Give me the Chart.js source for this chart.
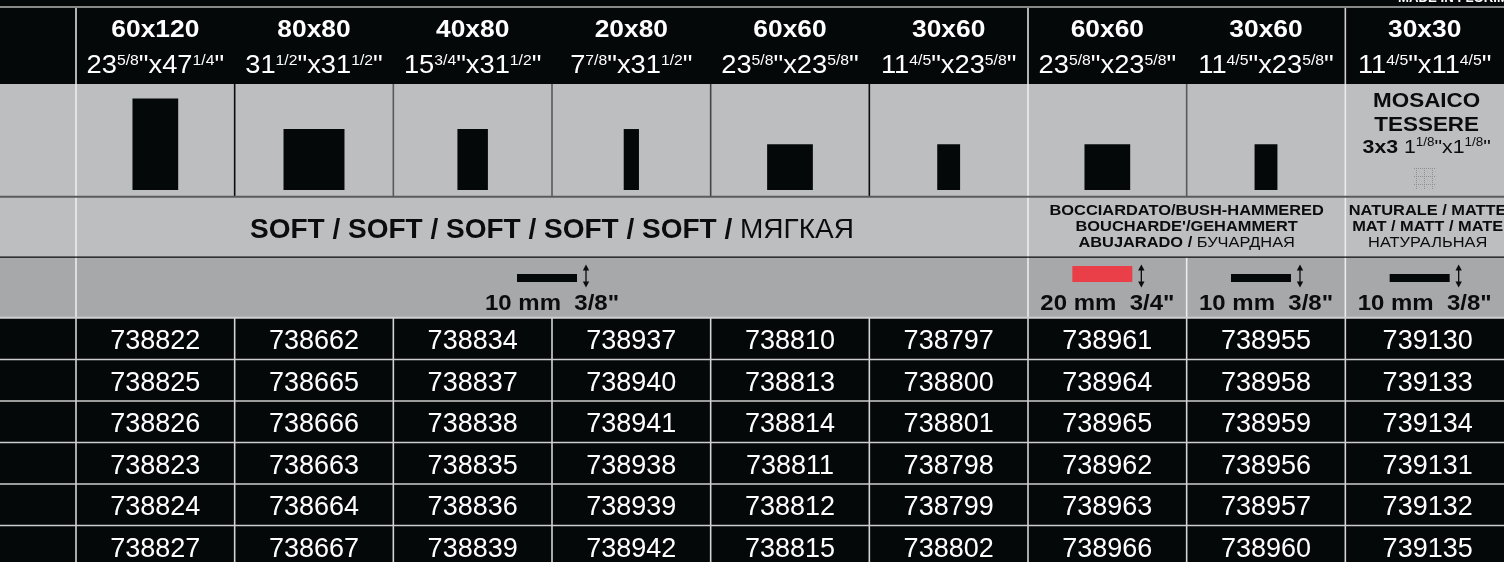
<!DOCTYPE html>
<html>
<head>
<meta charset="utf-8">
<script src="https://cdn.jsdelivr.net/npm/chart.js@4.4.1/dist/chart.umd.min.js"></script>
<style>
html, body { margin: 0; padding: 0; background: #050809; }
#wrap { width: 1504px; height: 562px; position: relative; }
</style>
</head>
<body>
<div id="wrap"><canvas id="tbl"></canvas></div>
<script>
// product columns
const formatsCm = ['60x120', '80x80', '40x80', '20x80', '60x60', '30x60', '60x60', '30x60', '30x30'];
const formatsIn = [
    ['23', '5/8', '47', '1/4'], ['31', '1/2', '31', '1/2'], ['15', '3/4', '31', '1/2'],
    ['7', '7/8', '31', '1/2'], ['23', '5/8', '23', '5/8'], ['11', '4/5', '23', '5/8'],
    ['23', '5/8', '23', '5/8'], ['11', '4/5', '23', '5/8'], ['11', '4/5', '11', '4/5']
];
// tile drawing size in cm (width, height)
const tileW = [60, 80, 40, 20, 60, 30, 60, 30, 30];
const tileH = [120, 80, 80, 80, 60, 60, 60, 60, 30];
const tileMosaic = [false, false, false, false, false, false, false, false, true];
const mosaicText = ['MOSAICO', 'TESSERE'];
const mosaicSize = ['3x3', '1', '1/8', '1', '1/8'];

// finish groups: [first col, last col], lines of [bold part, regular part]
const finishSpans = [[0, 5], [6, 7], [8, 8]];
const finishText = [
    [['SOFT / SOFT / SOFT / SOFT / SOFT / ', 'МЯГКАЯ']],
    [['BOCCIARDATO/BUSH-HAMMERED', ''], ["BOUCHARDE'/GEHAMMERT", ''], ['ABUJARADO / ', 'БУЧАРДНАЯ']],
    [['NATURALE / MATTE', ''], ['MAT / MATT / MATE', ''], ['', 'НАТУРАЛЬНАЯ']]
];

// thickness groups
const thickSpans = [[0, 5], [6, 6], [7, 7], [8, 8]];
const thickMm = [10, 20, 10, 10];
const thickIn = ['3/8"', '3/4"', '3/8"', '3/8"'];

// article codes, one list per row
const codes = [
    ['738822', '738662', '738834', '738937', '738810', '738797', '738961', '738955', '739130'],
    ['738825', '738665', '738837', '738940', '738813', '738800', '738964', '738958', '739133'],
    ['738826', '738666', '738838', '738941', '738814', '738801', '738965', '738959', '739134'],
    ['738823', '738663', '738835', '738938', '738811', '738798', '738962', '738956', '739131'],
    ['738824', '738664', '738836', '738939', '738812', '738799', '738963', '738957', '739132'],
    ['738827', '738667', '738839', '738942', '738815', '738802', '738966', '738960', '739135']
];

// ---- layout / style ----
const W = 1504, H = 562, LABEL_W = 76;
const COL_W = (W - LABEL_W) / 9;
const PX_PER_CM = 0.762, TILE_BASE = 190;
const PX_PER_MM = 0.8, THICK_BASE = 282;
const rowEdges = [0, 8, 84, 197, 257, 318, 359.5, 401, 442.5, 484, 525.5, 567];
const rowFill = ['#050809', '#050809', '#bdbec0', '#bdbec0', '#a7a8aa', '#050809', '#050809', '#050809', '#050809', '#050809', '#050809'];
const INK = '#0a0c0d';
const FAM = '"Liberation Sans", Arial, sans-serif';
const F = (w, s) => `${w} ${s}px ${FAM}`;

const WHITE_RULE = '#ececec';
const vRules = {
    1: [[0, '#dedede'], [6, '#dedede'], [8, '#cfcfcf']],
    2: [[0, WHITE_RULE], [1, '#0b0b0b'], [2, '#58595a'], [3, '#58595a'], [4, '#444'], [5, '#0b0b0b'], [6, WHITE_RULE], [7, '#58595a'], [8, WHITE_RULE]],
    3: [[0, WHITE_RULE], [6, WHITE_RULE], [8, WHITE_RULE]],
    4: [[0, WHITE_RULE], [6, WHITE_RULE], [7, WHITE_RULE], [8, WHITE_RULE]]
};
const hRules = [[7, '#b4b4b4', 1.6], [196.7, '#5a5b5c', 2], [257.2, '#0b0b0b', 1.2], [317.7, '#d0d0d0', 2]];

function makeMosaicPattern() {
    const c = document.createElement('canvas');
    c.width = 8; c.height = 8;
    const g = c.getContext('2d');
    g.fillStyle = '#8e8f91';
    for (let i = 0; i < 8; i += 2) {
        g.fillRect(i, 0, 1, 1);
        g.fillRect(0, i, 1, 1);
    }
    g.fillStyle = '#b0b1b3';
    g.fillRect(3, 3, 1, 1); g.fillRect(5, 5, 1, 1);
    return g.createPattern(c, 'repeat');
}

function drawRich(ctx, parts, cx, base, sx = 1, align = 'center') {
    let w = 0;
    parts.forEach(p => { ctx.font = p[1]; w += ctx.measureText(p[0]).width; });
    const x0 = align === 'left' ? cx : cx - w * sx / 2;
    ctx.save();
    ctx.translate(x0, base);
    ctx.scale(sx, 1);
    ctx.textAlign = 'left';
    ctx.textBaseline = 'alphabetic';
    let cur = 0;
    parts.forEach(p => {
        ctx.font = p[1];
        ctx.fillText(p[0], cur, p[2] || 0);
        cur += ctx.measureText(p[0]).width;
    });
    ctx.restore();
}

const tablePlugin = {
    id: 'tablePlugin',
    beforeDatasetsDraw(chart) {
        const { ctx, scales: { x, yrow } } = chart;
        const ry = v => yrow.getPixelForValue(v);
        const edge = k => x.getPixelForValue(k - 0.5);
        ctx.save();
        // row bands
        for (let r = 0; r < rowFill.length; r++) {
            ctx.fillStyle = rowFill[r];
            ctx.fillRect(0, ry(rowEdges[r]), W, ry(rowEdges[r + 1]) - ry(rowEdges[r]));
        }
        // vertical rules
        ctx.lineWidth = 1.6;
        for (let r = 1; r < rowFill.length; r++) {
            const list = vRules[r] || [0, 1, 2, 3, 4, 5, 6, 7, 8].map(k => [k, '#d4d4d4']);
            list.forEach(([k, col]) => {
                const px = edge(k);
                ctx.strokeStyle = col;
                ctx.beginPath();
                ctx.moveTo(px, ry(rowEdges[r]));
                ctx.lineTo(px, ry(rowEdges[r + 1]));
                ctx.stroke();
            });
        }
        // horizontal rules
        const rules = hRules.concat(rowEdges.slice(6, 11).map(v => [v, '#cdcdcd', 1.6]));
        rules.forEach(([v, col, lw]) => {
            ctx.strokeStyle = col;
            ctx.lineWidth = lw;
            ctx.beginPath();
            ctx.moveTo(0, ry(v));
            ctx.lineTo(W, ry(v));
            ctx.stroke();
        });
        ctx.restore();
    },
    afterDatasetsDraw(chart) {
        const { ctx, scales: { x, yrow, ymm } } = chart;
        const ry = v => yrow.getPixelForValue(v);
        const cx = v => x.getPixelForValue(v);
        ctx.save();

        // cut-off caption above the table
        ctx.fillStyle = '#ffffff';
        drawRich(ctx, [['MADE IN FLORIM', F('bold', 12)]], 1398, ry(1.8), 1.1, 'left');

        // header
        formatsCm.forEach((f, i) => {
            ctx.fillStyle = '#ffffff';
            drawRich(ctx, [[f, F('bold', 24)]], cx(i), ry(37), 1.1);
            const [a, fa, b, fb] = formatsIn[i];
            const big = F('normal', 26), sup = F('normal', 15);
            drawRich(ctx, [[a, big], [fa, sup, -8], ['"x' + b, big], [fb, sup, -8], ['"', big]], cx(i), ry(72.7), 1.05);
        });

        // mosaic description
        ctx.fillStyle = INK;
        const mc = cx(8) + 2;
        drawRich(ctx, [[mosaicText[0], F('bold', 19.5)]], mc, ry(106.7), 1.15);
        drawRich(ctx, [[mosaicText[1], F('bold', 19.5)]], mc, ry(130.7), 1.15);
        const m19 = F('normal', 19), m12 = F('normal', 12);
        drawRich(ctx, [[mosaicSize[0] + ' ', F('bold', 19)], [mosaicSize[1], m19], [mosaicSize[2], m12, -7],
            ['"x' + mosaicSize[3], m19], [mosaicSize[4], m12, -7], ['"', m19]], mc, ry(152.7), 1.12);

        // finish
        finishSpans.forEach(([a, b], g) => {
            const lines = finishText[g];
            const c = cx((a + b) / 2) + (g === 2 ? 3 : 0);
            if (lines.length === 1) {
                drawRich(ctx, [[lines[0][0], F('bold', 28)], [lines[0][1], F('normal', 28)]], c, ry(238), 1.0);
            } else {
                const bases = [215, 230.5, 246.8];
                lines.forEach((ln, j) => {
                    drawRich(ctx, [[ln[0], F('bold', 14.5)], [ln[1], F('normal', 14.5)]], c, ry(bases[j]), 1.13);
                });
            }
        });

        // thickness labels + arrows
        const base = ymm.getPixelForValue(0);
        thickSpans.forEach(([a, b], g) => {
            drawRich(ctx, [[thickMm[g] + ' mm  ' + thickIn[g], F('bold', 22)]], cx((a + b) / 2), ry(310), 1.09);
        });
        chart.data.datasets.forEach((ds, di) => {
            if (ds.kind !== 'thick') return;
            const el = chart.getDatasetMeta(di).data[0];
            const ax = el.x + el.width / 2 + 9;
            const cy = base - 6;
            ctx.strokeStyle = INK;
            ctx.fillStyle = INK;
            ctx.lineWidth = 1.3;
            ctx.beginPath();
            ctx.moveTo(ax, cy - 8);
            ctx.lineTo(ax, cy + 8);
            ctx.stroke();
            ctx.beginPath();
            ctx.moveTo(ax - 3.2, cy - 5.5); ctx.lineTo(ax + 3.2, cy - 5.5); ctx.lineTo(ax, cy - 11.5); ctx.closePath();
            ctx.moveTo(ax - 3.2, cy + 5.5); ctx.lineTo(ax + 3.2, cy + 5.5); ctx.lineTo(ax, cy + 11.5); ctx.closePath();
            ctx.fill();
        });

        // article codes
        ctx.fillStyle = '#ffffff';
        codes.forEach((row, r) => {
            const top = rowEdges[5 + r];
            row.forEach((code, i) => {
                drawRich(ctx, [[code, F('normal', 27)]], cx(i) + (i === 8 ? 3 : 0), ry(top + 31), 1.0);
            });
        });
        ctx.restore();
    }
};

const mosaicPattern = makeMosaicPattern();
const datasets = [];
tileW.forEach((w, i) => {
    datasets.push({
        kind: 'tile',
        data: [{ x: i, y: [0, tileH[i]] }],
        xAxisID: 'x', yAxisID: 'yt',
        backgroundColor: tileMosaic[i] ? mosaicPattern : '#050809',
        maxBarThickness: w * PX_PER_CM,
        grouped: false, barPercentage: 1, categoryPercentage: 1,
        borderWidth: 0, inflateAmount: 0
    });
});
thickMm.forEach((mm, g) => {
    const [a, b] = thickSpans[g];
    datasets.push({
        kind: 'thick',
        data: [{ x: (a + b) / 2, y: [0, mm] }],
        xAxisID: 'xmm', yAxisID: 'ymm',
        backgroundColor: mm >= 20 ? '#ea3f49' : '#050809',
        maxBarThickness: 60,
        grouped: false, barPercentage: 1, categoryPercentage: 1,
        borderWidth: 0, inflateAmount: 0
    });
});

const shift = 5 / COL_W; // icon sits a little left of the group centre
new Chart(document.getElementById('tbl'), {
    type: 'bar',
    data: { datasets },
    options: {
        responsive: true,
        maintainAspectRatio: false,
        animation: false,
        events: [],
        layout: { padding: { left: LABEL_W, right: 0, top: 0, bottom: 0 } },
        plugins: { legend: { display: false }, tooltip: { enabled: false } },
        scales: {
            x: { type: 'linear', offset: false, min: -0.5, max: 8.5, display: false },
            xmm: { type: 'linear', axis: 'x', offset: false, min: -0.5 + shift, max: 8.5 + shift, display: false },
            yt: { type: 'linear', axis: 'y', min: (TILE_BASE - H) / PX_PER_CM, max: TILE_BASE / PX_PER_CM, display: false },
            ymm: { type: 'linear', axis: 'y', min: (THICK_BASE - H) / PX_PER_MM, max: THICK_BASE / PX_PER_MM, display: false },
            yrow: { type: 'linear', axis: 'y', reverse: true, min: 0, max: H, display: false }
        }
    },
    plugins: [tablePlugin]
});
</script>
</body>
</html>
